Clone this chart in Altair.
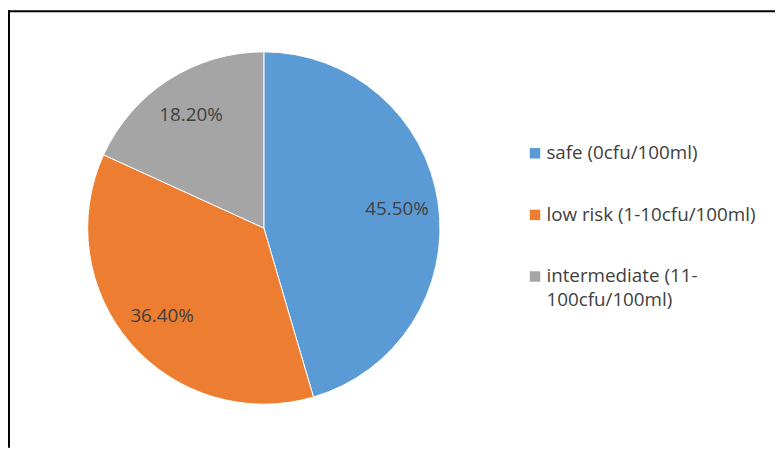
import altair as alt
import pandas as pd

categories = ["safe (0cfu/100ml)", "low risk (1-10cfu/100ml)", "intermediate (11-100cfu/100ml)"]
legend_labels = ["\u2002safe (0cfu/100ml)", "low risk (1-10cfu/100ml)", "intermediate (11-\n100cfu/100ml)"]
values = [45.5, 36.4, 18.2]
colors = ["#5B9BD5", "#ED7D31", "#A5A5A5"]

df = pd.DataFrame({
    "category": categories,
    "value": values,
    "order": [0, 1, 2],
    "legend_label": legend_labels,
})
df["label"] = [f"{v:.2f}%" for v in values]

FONT = "Open Sans"
TEXT_COLOR = "#404040"

color = alt.Color(
    "category:N",
    scale=alt.Scale(domain=categories, range=colors),
    legend=None,
)

base = alt.Chart(df).encode(
    theta=alt.Theta("value:Q", stack=True),
    order=alt.Order("order:Q"),
)

pie = base.mark_arc(radius=178, stroke="white", strokeWidth=1).encode(color=color)

labels = base.mark_text(radius=136, font=FONT, fontSize=19, color=TEXT_COLOR).encode(
    text="label:N"
)

legend_y = alt.Y(
    "order:Q",
    scale=alt.Scale(domain=[0, 2], range=[144.5, 269], zero=False, nice=False),
    axis=None,
)

legend_base = alt.Chart(df)
legend_symbols = legend_base.mark_square(size=112, opacity=1).encode(
    x=alt.value(532.5), y=legend_y, color=color
)
legend_text = legend_base.mark_text(
    align="left", baseline="middle", font=FONT, fontSize=19,
    color=TEXT_COLOR, lineBreak="\n", lineHeight=24,
).encode(x=alt.value(544), y=legend_y, text="legend_label:N")

frame_df = pd.DataFrame({"k": [0]})
top_line = alt.Chart(frame_df).mark_rule(color="black", strokeWidth=2).encode(
    x=alt.value(0), x2=alt.value(775), y=alt.value(1)
)
left_line = alt.Chart(frame_df).mark_rule(color="black", strokeWidth=2).encode(
    x=alt.value(1), y=alt.value(0), y2=alt.value(442)
)

chart = (
    alt.layer(pie, labels, legend_symbols, legend_text, top_line, left_line)
    .properties(
        width=517,
        height=440,
        padding={"left": 0, "top": 0, "right": 258, "bottom": 2},
        autosize=alt.AutoSizeParams(type="none"),
        background="white",
    )
    .configure_view(stroke=None)
)

chart.save("out.html", embed_options={"renderer": "svg", "actions": False})
